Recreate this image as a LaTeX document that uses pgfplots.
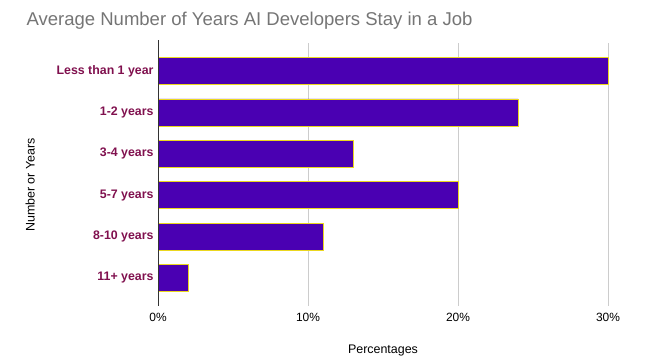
\documentclass[border=0pt]{standalone}
\usepackage{fontspec}
\setmainfont{Liberation Sans}
\usepackage{pgfplots}
\pgfplotsset{compat=1.18}
\definecolor{barfill}{RGB}{74,0,178}
\definecolor{baredge}{RGB}{235,215,30}
\definecolor{lab}{RGB}{128,16,78}
\definecolor{titlegray}{RGB}{117,117,117}
\begin{document}
\begin{tikzpicture}
\path[use as bounding box] (0,0) rectangle (645bp,364bp);
\begin{axis}[
  at={(158bp,58bp)}, anchor=south west,
  scale only axis,
  width=450bp, height=263bp,
  xbar, bar width=27bp,
  xmin=0, xmax=30,
  ymin=-0.68, ymax=5.68,
  y dir=reverse,
  ytick={0,1,2,3,4,5},
  yticklabels={Less than 1 year,1-2 years,3-4 years,5-7 years,8-10 years,11+ years},
  yticklabel style={font=\fontsize{12.4}{14}\selectfont\bfseries, text=lab, xshift=-1bp},
  xtick={0,10,20,30},
  xticklabel={\pgfmathprintnumber{\tick}\%},
  /pgf/number format/assume math mode=true,
  xticklabel style={font=\fontsize{12}{14}\selectfont, yshift=-4bp},
  major tick length=0pt,
  xmajorgrids, grid style={color=black!20, line width=0.8bp},
  axis line style={draw=none},
  xlabel={Percentages},
  xlabel style={font=\fontsize{12.5}{14}\selectfont, at={(axis description cs:0.5,-0.17)}, anchor=center},
  ylabel={Number or Years},
  ylabel style={font=\fontsize{12.5}{14}\selectfont, at={(axis description cs:-0.284,0.46)}, anchor=center},
  title={Average Number of Years AI Developers Stay in a Job},
  title style={font=\fontsize{18.6}{22}\selectfont, text=titlegray, at={(axis description cs:-0.3,1.0456)}, anchor=base west},
  clip=false,
]
\addplot[fill=barfill, draw=baredge, line width=0.7bp] coordinates {
  (30,0) (24,1) (13,2) (20,3) (11,4) (2,5)
};
\draw[black!80, line width=0.9bp] (axis cs:0,-0.75) -- (axis cs:0,5.68);
\end{axis}
\end{tikzpicture}
\end{document}
